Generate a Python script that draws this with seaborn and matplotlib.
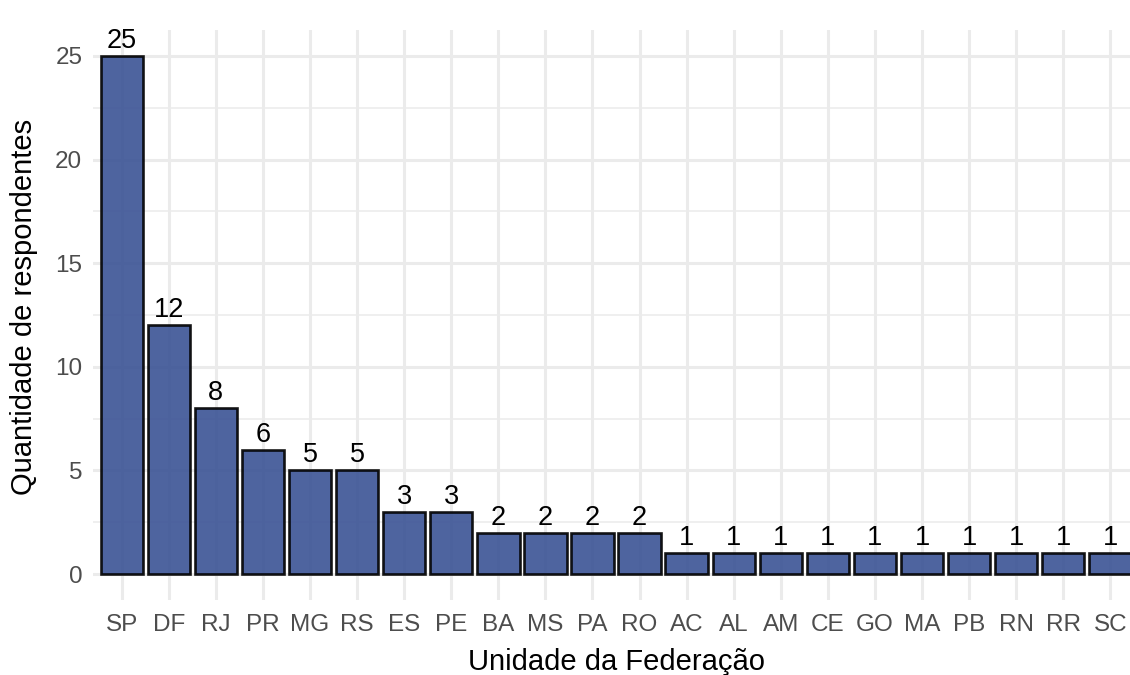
import matplotlib
matplotlib.use("Agg")
import matplotlib.pyplot as plt
import seaborn as sns
import pandas as pd
from matplotlib.ticker import MultipleLocator

ufs = ["SP", "DF", "RJ", "PR", "MG", "RS", "ES", "PE", "BA", "MS", "PA", "RO",
       "AC", "AL", "AM", "CE", "GO", "MA", "PB", "RN", "RR", "SC"]
counts = [25, 12, 8, 6, 5, 5, 3, 3, 2, 2, 2, 2, 1, 1, 1, 1, 1, 1, 1, 1, 1, 1]

df = pd.DataFrame({"uf": ufs, "n": counts})

sns.set_theme(style="white")
plt.rcParams['font.family'] = ['Liberation Sans', 'DejaVu Sans']

fig = plt.figure(figsize=(11.3, 6.75), dpi=100)
ax = fig.add_axes([0.0827, 0.1111, 0.9249, 0.8444])

sns.barplot(data=df, x="uf", y="n", order=ufs, color="#3B5395", alpha=0.9,
            edgecolor="black", linewidth=1.9, width=0.9, saturation=1, ax=ax)

for i, v in enumerate(counts):
    ax.annotate(str(v), xy=(i, v), xytext=(0, 1.5), textcoords="offset points",
                ha="center", va="bottom", fontsize=19.5, color="black")

ax.set_xlim(-0.6, len(ufs) - 1 + 0.6)
ax.set_ylim(-1.25, 26.25)
ax.yaxis.set_major_locator(MultipleLocator(5))
ax.yaxis.set_minor_locator(MultipleLocator(2.5))
ax.grid(True, which="major", color="#EBEBEB", linewidth=2.2)
ax.grid(True, which="minor", axis="y", color="#EBEBEB", linewidth=1.1)
ax.set_axisbelow(True)
for s in ax.spines.values():
    s.set_visible(False)
ax.tick_params(axis="both", which="both", length=0, labelsize=17.5, colors="#4D4D4D")
ax.tick_params(axis="x", pad=10)
ax.tick_params(axis="y", pad=8)
ax.set_xlabel("Unidade da Federação", fontsize=21, color="black", labelpad=9)
ax.set_ylabel("Quantidade de respondentes", fontsize=21, color="black")
ax.yaxis.set_label_coords(-0.0535, 0.515)

fig.savefig("out.png", dpi=100)
